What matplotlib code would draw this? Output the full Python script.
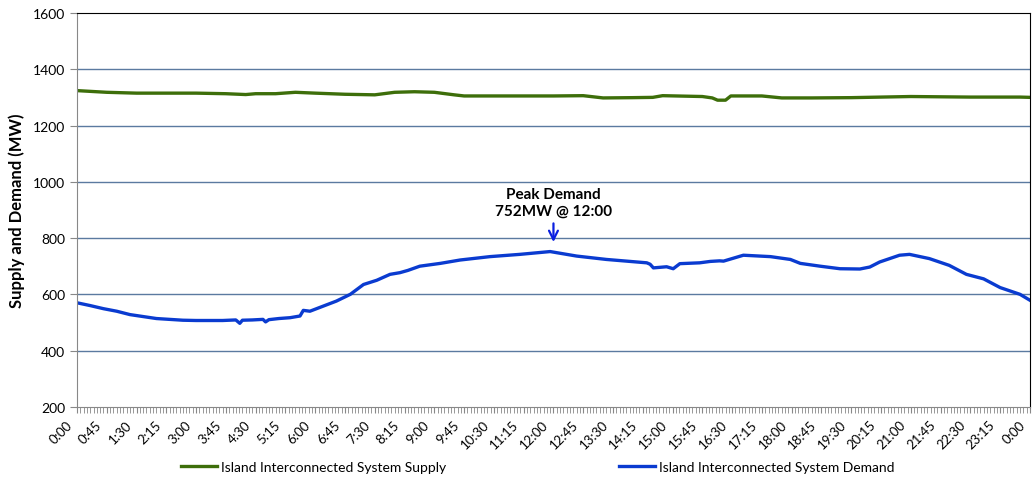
import matplotlib
matplotlib.use("Agg")
import matplotlib.pyplot as plt
import matplotlib.transforms as mtransforms
from matplotlib.ticker import MultipleLocator, FuncFormatter

plt.rcParams['font.family'] = ['Lato', 'DejaVu Sans']

# minutes after midnight, MW
demand_min = [0, 20, 40, 60, 80, 100, 120, 140, 160, 180, 200, 220, 240, 246, 250, 265,
              281, 285, 290, 305, 322, 337, 342, 352, 372, 392, 413, 433, 453, 473, 488,
              500, 518, 549, 579, 624, 669, 715, 725, 755, 800, 861, 866, 871, 891, 901,
              911, 941, 957, 971, 977, 1007, 1048, 1078, 1093, 1123, 1153, 1183, 1198,
              1213, 1243, 1258, 1288, 1318, 1344, 1370, 1395, 1425, 1440]
demand_mw = [570, 560, 549, 540, 528, 521, 514, 511, 508, 507, 507, 507, 509, 497, 508, 509,
             511, 502, 510, 514, 517, 523, 543, 540, 558, 576, 600, 635, 650, 671, 677,
             685, 700, 710, 722, 734, 742, 752, 748, 736, 724, 712, 707, 694, 698, 691,
             709, 712, 717, 719, 718, 739, 734, 724, 710, 700, 691, 690, 697,
             715, 739, 742, 727, 703, 671, 655, 624, 600, 579]

supply_min = [0, 45, 90, 135, 180, 225, 255, 270, 300, 330, 360, 405, 450, 480, 510, 540,
              570, 585, 630, 675, 720, 765, 795, 840, 870, 885, 945, 960, 968, 980, 988,
              1035, 1065, 1110, 1170, 1260, 1350, 1425, 1440]
supply_mw = [1324, 1318, 1315, 1315, 1315, 1313, 1310, 1313, 1313, 1318, 1315, 1311, 1309,
             1318, 1320, 1318, 1309, 1305, 1305, 1305, 1305, 1306, 1298, 1299, 1300, 1306,
             1303, 1298, 1290, 1290, 1305, 1305, 1298, 1298, 1299, 1303, 1301, 1301, 1300]

peak_min = 720
peak_mw = 752

fig = plt.figure(figsize=(10.32, 4.81), dpi=100)
ax = fig.add_axes([0.0746, 0.152, 0.9234, 0.819])

ax.plot(supply_min, supply_mw, color='#3d6e0a', lw=2.4, label='Island Interconnected System Supply')
ax.plot(demand_min, demand_mw, color='#0a3bd0', lw=2.4, label='Island Interconnected System Demand')

ax.set_xlim(0, 1440)
ax.set_ylim(200, 1600)
ax.yaxis.set_major_locator(MultipleLocator(200))
ax.xaxis.set_major_locator(MultipleLocator(45))
ax.xaxis.set_minor_locator(MultipleLocator(5))
ax.xaxis.set_major_formatter(FuncFormatter(lambda m, p: "%d:%02d" % ((int(m) // 60) % 24, int(m) % 60)))

for y in range(400, 1600, 200):
    ax.axhline(y, color='#5b7aa0', lw=1, zorder=0)

ax.tick_params(axis='x', which='both', length=4, color='#888888', pad=7)
ax.tick_params(axis='y', length=5, color='#888888', labelsize=10)

# nudge the rotated labels left so the last one stays inside the figure
shift = mtransforms.ScaledTranslation(-7 / 100, 0, fig.dpi_scale_trans)
for lab in ax.get_xticklabels():
    lab.set_rotation(45)
    lab.set_ha('right')
    lab.set_va('center')
    lab.set_rotation_mode('anchor')
    lab.set_fontsize(9.5)
    lab.set_transform(lab.get_transform() + shift)

ax.spines['left'].set_color('#888888')
ax.spines['bottom'].set_color('#888888')
ax.spines['top'].set_color('black')
ax.spines['right'].set_color('black')

ax.set_ylabel('Supply and Demand (MW)', fontsize=12, fontweight='bold', labelpad=6)

ax.text(peak_min, 927, 'Peak Demand\n%dMW @ 12:00' % peak_mw, ha='center', va='center',
        fontsize=11, fontweight='bold', linespacing=1.3)
ax.annotate('', xy=(peak_min, 776), xytext=(peak_min, 862),
            arrowprops=dict(arrowstyle='->', color='#0a1fe0', lw=1.6, mutation_scale=16))

fig.legend(loc='center', bbox_to_anchor=(0.521, 0.027), ncol=2, frameon=False, fontsize=10,
           handlelength=2.6, handletextpad=0.25, columnspacing=12.5)

fig.savefig('out.png', dpi=100)
